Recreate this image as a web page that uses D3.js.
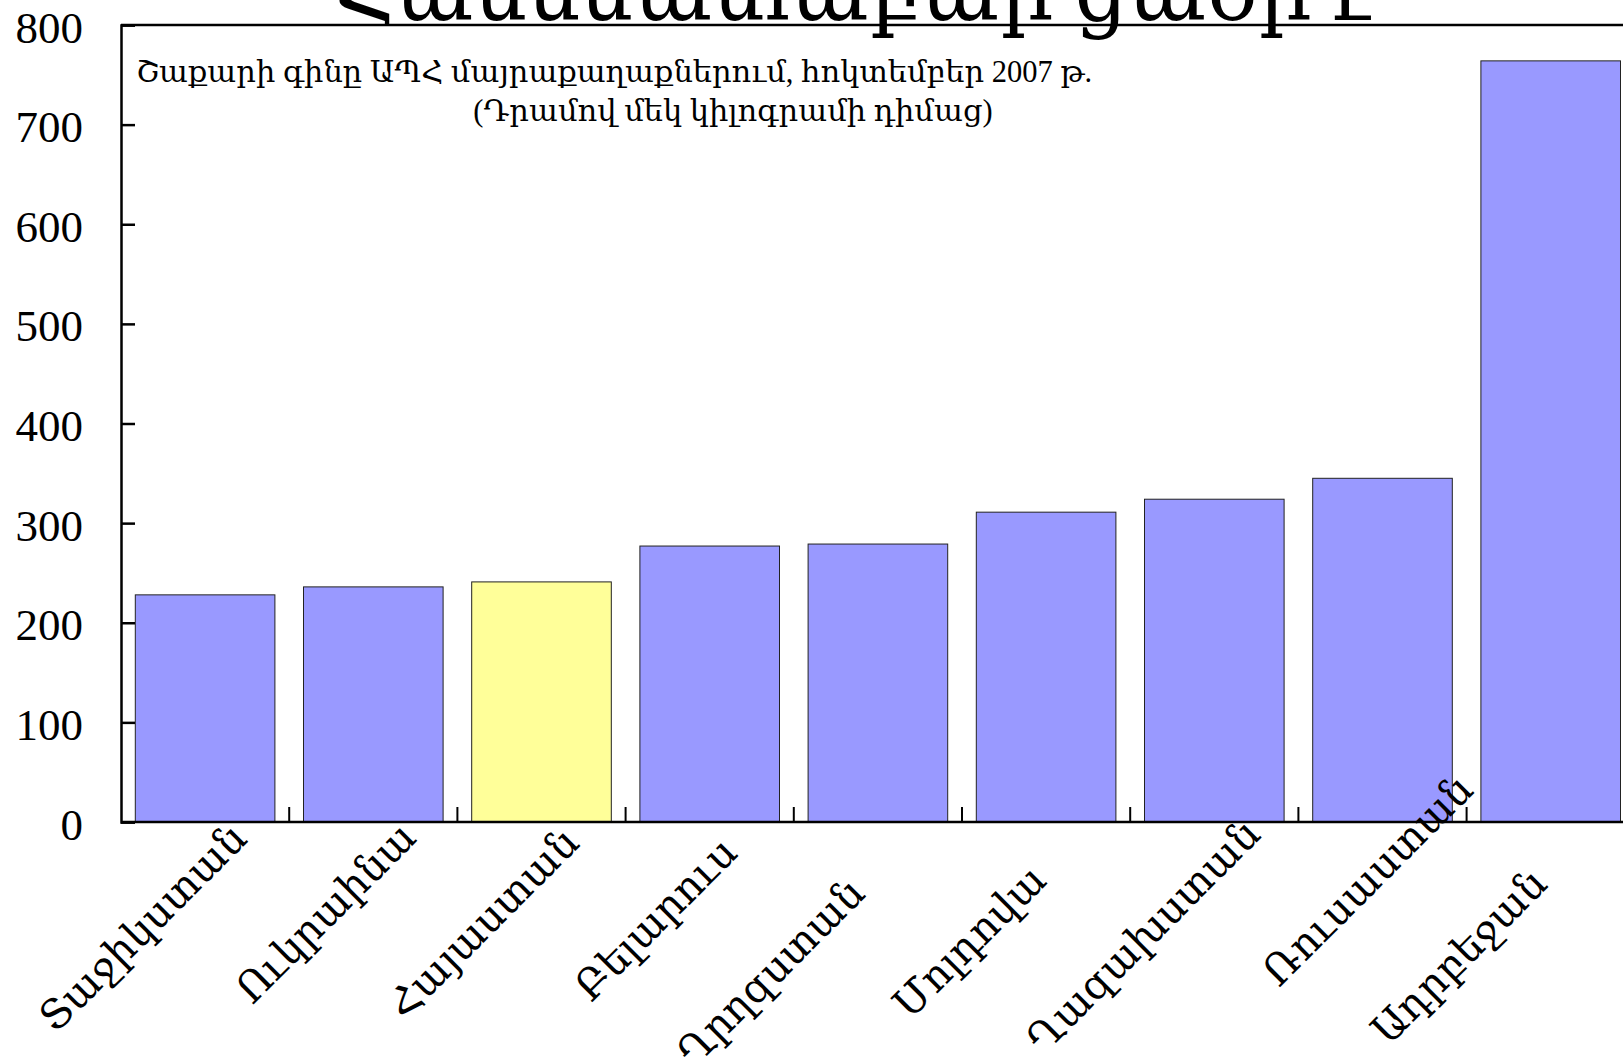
<!DOCTYPE html>
<html>
<head>
<meta charset="utf-8">
<script src="https://cdn.jsdelivr.net/npm/d3@7"></script>
<style>
  html, body { margin: 0; padding: 0; background: #fff; overflow: hidden; }
  svg { display: block; }
  text { font-family: "Liberation Serif", "DejaVu Serif", serif; fill: #000; }
</style>
</head>
<body>
<svg id="chart" width="1623" height="1061"></svg>
<script>
// ---- data ----
const categories = ["Տաջիկստան", "Ուկրաինա", "Հայաստան", "Բելարուս", "Ղրղզստան", "Մոլդովա", "Ղազախստան", "Ռուսաստան", "Ադրբեջան"];
const prices = [228, 236, 241, 277, 279, 311, 324, 345, 764];
const highlighted = ["Հայաստան"];
const yTickValues = [0, 100, 200, 300, 400, 500, 600, 700, 800];
const titleText = "Համեմատաբար ցածր է";
const subtitleLines = ["Շաքարի գինը ԱՊՀ մայրաքաղաքներում, հոկտեմբեր 2007 թ.", "(Դրամով մեկ կիլոգրամի դիմաց)"];

// ---- layout (not data) ----
const W = 1623, H = 1061;
const mLeft = 121, mTop = 25, mBottom = 822;
const step = 168.2;
const labelAlong = [-119, -98, -113, -107, -182, -139, -131, -52, -160];
const labelPerp = 30;

const svg = d3.select("#chart");

const x = d3.scaleBand()
  .domain(categories)
  .range([mLeft, mLeft + step * categories.length])
  .paddingInner(0.17)
  .paddingOuter(0.085);

const y = d3.scaleLinear().domain([0, 800]).range([mBottom, mTop]);

// title (clipped at top)
svg.append("text")
  .attr("x", 335).attr("y", 20)
  .attr("textLength", 1040)
  .attr("lengthAdjust", "spacingAndGlyphs")
  .style("font-size", "88px")
  .text(titleText);

// bars
svg.append("g").selectAll("rect")
  .data(categories)
  .join("rect")
  .attr("x", d => x(d))
  .attr("width", x.bandwidth())
  .attr("y", (d, i) => y(prices[i]))
  .attr("height", (d, i) => y(0) - y(prices[i]))
  .attr("fill", d => highlighted.includes(d) ? "#ffff99" : "#9999ff")
  .attr("stroke", "#222")
  .attr("stroke-width", 1);

// top frame line
svg.append("line")
  .attr("x1", mLeft).attr("x2", W + 20)
  .attr("y1", y(800)).attr("y2", y(800))
  .attr("stroke", "#000").attr("stroke-width", 2.5);

// y axis
const yAxis = d3.axisLeft(y).tickValues(yTickValues).tickSize(-14).tickPadding(38);
const gy = svg.append("g").attr("transform", `translate(${mLeft},0)`).call(yAxis);
gy.select(".domain").attr("stroke", "#000").attr("stroke-width", 2.5);
gy.selectAll(".tick line").attr("stroke", "#000").attr("stroke-width", 2.5);
gy.selectAll(".tick text")
  .style("font-family", "'Liberation Serif', serif")
  .style("font-size", "45px")
  .attr("dy", "0.38em");

// x axis line
svg.append("line")
  .attr("x1", mLeft).attr("x2", W + 20)
  .attr("y1", mBottom).attr("y2", mBottom)
  .attr("stroke", "#000").attr("stroke-width", 2.5);

// x ticks at band boundaries
const boundaries = d3.range(1, categories.length).map(i => x.range()[0] + x.step() * i);
svg.append("g").selectAll("line")
  .data(boundaries)
  .join("line")
  .attr("x1", d => d).attr("x2", d => d)
  .attr("y1", mBottom).attr("y2", mBottom - 15)
  .attr("stroke", "#000").attr("stroke-width", 2);

// category labels (rotated)
const s2 = Math.SQRT2;
svg.append("g").selectAll("text")
  .data(categories)
  .join("text")
  .attr("text-anchor", "middle")
  .attr("dy", "0.35em")
  .style("font-size", "41px")
  .attr("transform", (d, i) => {
    const cx = x(d) + x.bandwidth() / 2 + (labelAlong[i] + labelPerp) / s2;
    const cy = mBottom + (-labelAlong[i] + labelPerp) / s2;
    return `translate(${cx},${cy}) rotate(-45)`;
  })
  .text(d => d);

// subtitle
svg.append("text")
  .attr("x", 136).attr("y", 82)
  .style("font-size", "30.5px")
  .text(subtitleLines[0]);
svg.append("text")
  .attr("x", 733).attr("y", 121)
  .attr("text-anchor", "middle")
  .style("font-size", "30.5px")
  .text(subtitleLines[1]);
</script>
</body>
</html>
